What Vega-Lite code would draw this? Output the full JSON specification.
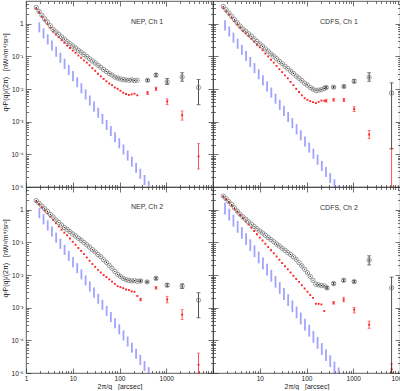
{
"$schema": "https://vega.github.io/schema/vega-lite/v6.json",
"padding": 0,
"background": "white",
"config": {
  "view": {"stroke": "#333", "strokeWidth": 0.8},
  "axis": {"domain": false, "grid": false, "tickColor": "#333", "tickWidth": 0.7, "labelFont": "Liberation Sans", "labelFontSize": 6.5, "labelColor": "#222", "titleFont": "Liberation Sans", "titleFontSize": 7, "titleFontWeight": "normal", "titleColor": "#222", "labelFlush": false, "labelOverlap": false, "labelBound": false}
},
"data": {"values": [
{"p":"N1","x":1.66,"t":3.16,"c":2.88},{"p":"N1","x":1.905,"t":2.4,"c":2.19},{"p":"N1","x":2.188,"t":1.82,"c":1.62},{"p":"N1","x":2.512,"t":1.41,"c":1.26},{"p":"N1","x":2.884,"t":1.12,"c":0.977},{"p":"N1","x":3.311,"t":0.871,"c":0.759},{"p":"N1","x":3.802,"t":0.676,"c":0.575},{"p":"N1","x":4.365,"t":0.562,"c":0.468},{"p":"N1","x":5.012,"t":0.479,"c":0.389},{"p":"N1","x":5.754,"t":0.398,"c":0.316},{"p":"N1","x":6.607,"t":0.339,"c":0.263},{"p":"N1","x":7.586,"t":0.282,"c":0.214},{"p":"N1","x":8.71,"t":0.245,"c":0.182},{"p":"N1","x":10,"t":0.209,"c":0.151},{"p":"N1","x":11.48,"t":0.182,"c":0.129},{"p":"N1","x":13.18,"t":0.155,"c":0.107},{"p":"N1","x":15.14,"t":0.135,"c":0.0912},{"p":"N1","x":17.38,"t":0.115,"c":0.0759},{"p":"N1","x":19.95,"t":0.1,"c":0.0646},{"p":"N1","x":22.91,"t":0.0851,"c":0.0537},{"p":"N1","x":26.3,"t":0.0724,"c":0.0437},{"p":"N1","x":30.2,"t":0.0631,"c":0.0363},{"p":"N1","x":34.67,"t":0.0537,"c":0.0295},{"p":"N1","x":39.81,"t":0.0468,"c":0.0245},{"p":"N1","x":45.71,"t":0.0398,"c":0.0204},{"p":"N1","x":52.48,"t":0.0347,"c":0.0174},{"p":"N1","x":60.26,"t":0.0302,"c":0.0148},{"p":"N1","x":69.18,"t":0.0269,"c":0.0132},{"p":"N1","x":79.43,"t":0.0234,"c":0.0112},{"p":"N1","x":91.2,"t":0.0219,"c":0.0102},{"p":"N1","x":104.7,"t":0.0204,"c":0.00891},{"p":"N1","x":120.2,"t":0.0195,"c":0.00776},{"p":"N1","x":138,"t":0.0191,"c":0.00708},{"p":"N1","x":158.5,"t":0.0186,"c":0.00661},{"p":"N1","x":182,"t":0.0191,"c":0.00692},{"p":"N1","x":208.9,"t":0.0182,"c":0.00724},{"p":"N1","x":239.9,"t":0.0186,"c":0.00646},
{"p":"N1","x":398,"t":0.0186,"tl":0.0174,"th":0.02,"c":0.00759,"cl":0.0068,"ch":0.0085},{"p":"N1","x":603,"t":0.0269,"tl":0.024,"th":0.0302,"c":0.0102,"cl":0.0091,"ch":0.0115},{"p":"N1","x":1047,"t":0.0166,"tl":0.0138,"th":0.0209,"c":0.00417,"cl":0.00331,"ch":0.00501},{"p":"N1","x":2188,"t":0.0234,"tl":0.0174,"th":0.0316,"c":0.00158,"cl":0.00112,"ch":0.00214},{"p":"N1","x":4898,"t":0.0112,"tl":0.00331,"th":0.0195,"c":0.000087,"cl":0.0000355,"ch":0.000214},
{"p":"C1","x":1.66,"t":3.39,"c":3.02},{"p":"C1","x":1.905,"t":2.69,"c":2.4},{"p":"C1","x":2.188,"t":2.14,"c":1.91},{"p":"C1","x":2.512,"t":1.7,"c":1.51},{"p":"C1","x":2.884,"t":1.35,"c":1.2},{"p":"C1","x":3.311,"t":1.07,"c":0.955},{"p":"C1","x":3.802,"t":0.851,"c":0.759},{"p":"C1","x":4.365,"t":0.692,"c":0.603},{"p":"C1","x":5.012,"t":0.589,"c":0.513},{"p":"C1","x":5.754,"t":0.49,"c":0.417},{"p":"C1","x":6.607,"t":0.417,"c":0.347},{"p":"C1","x":7.586,"t":0.347,"c":0.282},{"p":"C1","x":8.71,"t":0.288,"c":0.229},{"p":"C1","x":10,"t":0.245,"c":0.191},{"p":"C1","x":11.48,"t":0.204,"c":0.155},{"p":"C1","x":13.18,"t":0.17,"c":0.123},{"p":"C1","x":15.14,"t":0.145,"c":0.1},{"p":"C1","x":17.38,"t":0.12,"c":0.0794},{"p":"C1","x":19.95,"t":0.102,"c":0.0646},{"p":"C1","x":22.91,"t":0.0851,"c":0.0513},{"p":"C1","x":26.3,"t":0.0708,"c":0.0407},{"p":"C1","x":30.2,"t":0.0603,"c":0.0331},{"p":"C1","x":34.67,"t":0.0501,"c":0.0263},{"p":"C1","x":39.81,"t":0.0427,"c":0.0214},{"p":"C1","x":45.71,"t":0.0355,"c":0.0166},{"p":"C1","x":52.48,"t":0.0302,"c":0.0132},{"p":"C1","x":60.26,"t":0.0251,"c":0.0102},{"p":"C1","x":69.18,"t":0.0214,"c":0.00813},{"p":"C1","x":79.43,"t":0.0182,"c":0.00646},{"p":"C1","x":91.2,"t":0.0151,"c":0.00525},{"p":"C1","x":104.7,"t":0.0132,"c":0.00468},{"p":"C1","x":120.2,"t":0.0112,"c":0.00427},{"p":"C1","x":138,"t":0.01,"c":0.00398},{"p":"C1","x":158.5,"t":0.00891,"c":0.00372},{"p":"C1","x":182,"t":0.00933,"c":0.00407},{"p":"C1","x":208.9,"t":0.00955,"c":0.00447},{"p":"C1","x":239.9,"t":0.0105,"c":0.00437},
{"p":"C1","x":263,"t":0.0112,"tl":0.0105,"th":0.012,"c":0.00437,"cl":0.00398,"ch":0.00479},{"p":"C1","x":380,"t":0.0115,"tl":0.0107,"th":0.0123,"c":0.00468,"cl":0.00427,"ch":0.00513},{"p":"C1","x":631,"t":0.012,"tl":0.011,"th":0.0132,"c":0.00468,"cl":0.00417,"ch":0.00525},{"p":"C1","x":1047,"t":0.0174,"tl":0.0155,"th":0.0195,"c":0.00245,"cl":0.00204,"ch":0.00288},{"p":"C1","x":2188,"t":0.0229,"tl":0.0174,"th":0.0316,"c":0.000407,"cl":0.000302,"ch":0.000537},{"p":"C1","x":6607,"t":0.00759,"tl":0.000148,"th":0.0155,"cl":0.00001,"ch":0.000148},
{"p":"N2","x":1.66,"t":1.91,"c":1.78},{"p":"N2","x":1.905,"t":1.585,"c":1.48},{"p":"N2","x":2.188,"t":1.29,"c":1.175},{"p":"N2","x":2.512,"t":1.07,"c":0.955},{"p":"N2","x":2.884,"t":0.891,"c":0.776},{"p":"N2","x":3.311,"t":0.724,"c":0.617},{"p":"N2","x":3.802,"t":0.603,"c":0.49},{"p":"N2","x":4.365,"t":0.49,"c":0.389},{"p":"N2","x":5.012,"t":0.407,"c":0.309},{"p":"N2","x":5.754,"t":0.339,"c":0.245},{"p":"N2","x":6.607,"t":0.288,"c":0.2},{"p":"N2","x":7.586,"t":0.251,"c":0.166},{"p":"N2","x":8.71,"t":0.214,"c":0.132},{"p":"N2","x":10,"t":0.182,"c":0.105},{"p":"N2","x":11.48,"t":0.158,"c":0.0851},{"p":"N2","x":13.18,"t":0.135,"c":0.0676},{"p":"N2","x":15.14,"t":0.1175,"c":0.055},{"p":"N2","x":17.38,"t":0.1,"c":0.0437},{"p":"N2","x":19.95,"t":0.0851,"c":0.0347},{"p":"N2","x":22.91,"t":0.0724,"c":0.0275},{"p":"N2","x":26.3,"t":0.0603,"c":0.0219},{"p":"N2","x":30.2,"t":0.0513,"c":0.0178},{"p":"N2","x":34.67,"t":0.0427,"c":0.0145},{"p":"N2","x":39.81,"t":0.0363,"c":0.012},{"p":"N2","x":45.71,"t":0.0295,"c":0.01},{"p":"N2","x":52.48,"t":0.0245,"c":0.00871},{"p":"N2","x":60.26,"t":0.02,"c":0.00741},{"p":"N2","x":69.18,"t":0.0162,"c":0.00631},{"p":"N2","x":79.43,"t":0.0129,"c":0.00537},{"p":"N2","x":91.2,"t":0.0105,"c":0.00457},{"p":"N2","x":104.7,"t":0.00912,"c":0.00427},{"p":"N2","x":120.2,"t":0.00794,"c":0.00398},{"p":"N2","x":138,"t":0.00724,"c":0.00363},{"p":"N2","x":158.5,"t":0.00692,"c":0.00347},{"p":"N2","x":182,"t":0.00661,"c":0.00316},{"p":"N2","x":208.9,"t":0.00676,"c":0.00309},{"p":"N2","x":239.9,"t":0.00646,"c":0.00229},
{"p":"N2","x":282,"t":0.00661,"tl":0.0062,"th":0.0071,"c":0.00178,"cl":0.00162,"ch":0.00195},{"p":"N2","x":389,"t":0.00617,"tl":0.0058,"th":0.0066},{"p":"N2","x":603,"t":0.00794,"tl":0.0072,"th":0.0087,"c":0.00407,"cl":0.00372,"ch":0.00447},{"p":"N2","x":1047,"t":0.0049,"tl":0.0044,"th":0.0055,"c":0.00178,"cl":0.00141,"ch":0.00224},{"p":"N2","x":2188,"t":0.00457,"tl":0.00389,"th":0.00537,"c":0.000617,"cl":0.000437,"ch":0.00087},{"p":"N2","x":4898,"t":0.0017,"tl":0.00049,"th":0.00288,"c":0.0000178,"cl":0.00001,"ch":0.0000407},
{"p":"C2","x":1.66,"t":2.63,"c":2.51},{"p":"C2","x":1.905,"t":2.19,"c":2.09},{"p":"C2","x":2.188,"t":1.78,"c":1.7},{"p":"C2","x":2.512,"t":1.445,"c":1.35},{"p":"C2","x":2.884,"t":1.148,"c":1.07},{"p":"C2","x":3.311,"t":0.912,"c":0.871},{"p":"C2","x":3.802,"t":0.724,"c":0.692},{"p":"C2","x":4.365,"t":0.603,"c":0.55},{"p":"C2","x":5.012,"t":0.513,"c":0.437},{"p":"C2","x":5.754,"t":0.427,"c":0.355},{"p":"C2","x":6.607,"t":0.363,"c":0.282},{"p":"C2","x":7.586,"t":0.309,"c":0.224},{"p":"C2","x":8.71,"t":0.263,"c":0.178},{"p":"C2","x":10,"t":0.224,"c":0.141},{"p":"C2","x":11.48,"t":0.195,"c":0.115},{"p":"C2","x":13.18,"t":0.166,"c":0.0912},{"p":"C2","x":15.14,"t":0.141,"c":0.0724},{"p":"C2","x":17.38,"t":0.123,"c":0.0575},{"p":"C2","x":19.95,"t":0.105,"c":0.0468},{"p":"C2","x":22.91,"t":0.0891,"c":0.0372},{"p":"C2","x":26.3,"t":0.0776,"c":0.0295},{"p":"C2","x":30.2,"t":0.0661,"c":0.0234},{"p":"C2","x":34.67,"t":0.0575,"c":0.0186},{"p":"C2","x":39.81,"t":0.049,"c":0.0151},{"p":"C2","x":45.71,"t":0.0427,"c":0.012},{"p":"C2","x":52.48,"t":0.0363,"c":0.00955},{"p":"C2","x":60.26,"t":0.0302,"c":0.00759},{"p":"C2","x":69.18,"t":0.024,"c":0.00617},{"p":"C2","x":79.43,"t":0.0191,"c":0.0049},{"p":"C2","x":91.2,"t":0.0151,"c":0.00389},{"p":"C2","x":104.7,"t":0.0117,"c":0.00309},{"p":"C2","x":120.2,"t":0.00912,"c":0.00245},{"p":"C2","x":138,"t":0.00692,"c":0.002},{"p":"C2","x":158.5,"t":0.00525,"c":0.00132},{"p":"C2","x":182,"t":0.00501,"c":0.00132},{"p":"C2","x":208.9,"t":0.00479,"c":0.00126},{"p":"C2","x":239.9,"t":0.00468,"c":0.000794},
{"p":"C2","x":275,"t":0.00407,"tl":0.00372,"th":0.00447},{"p":"C2","x":380,"t":0.0055,"tl":0.00501,"th":0.00603,"c":0.00141,"cl":0.00129,"ch":0.00155},{"p":"C2","x":624,"t":0.00692,"tl":0.0063,"th":0.0076,"c":0.00178,"cl":0.00151,"ch":0.00209},{"p":"C2","x":1047,"t":0.00631,"tl":0.0058,"th":0.0069,"c":0.00087,"cl":0.00069,"ch":0.00102},{"p":"C2","x":2188,"t":0.0288,"tl":0.0204,"th":0.0389,"c":0.000302,"cl":0.000234,"ch":0.000389},{"p":"C2","x":6607,"t":0.00407,"tl":0.00001,"th":0.0087,"c":0.000013,"cl":0.00001,"ch":0.000019},
{"p":"N1","x":176,"y":1.14,"lab":"NEP, Ch 1"},{"p":"C1","x":195,"y":1.14,"lab":"CDFS, Ch 1"},{"p":"N2","x":176,"y":1.2,"lab":"NEP, Ch 2"},{"p":"C2","x":195,"y":1.15,"lab":"CDFS, Ch 2"},
{"p":"N1","x":1.93,"bl":0.55,"bh":1.122},{"p":"N1","x":2.371,"bl":0.357,"bh":0.729},{"p":"N1","x":2.917,"bl":0.232,"bh":0.474},{"p":"N1","x":3.589,"bl":0.151,"bh":0.308},{"p":"N1","x":4.416,"bl":0.098,"bh":0.2},{"p":"N1","x":5.433,"bl":0.0637,"bh":0.13},{"p":"N1","x":6.683,"bl":0.0414,"bh":0.0845},{"p":"N1","x":8.222,"bl":0.027,"bh":0.055},{"p":"N1","x":10.12,"bl":0.0175,"bh":0.0356},{"p":"N1","x":12.45,"bl":0.0114,"bh":0.0232},{"p":"N1","x":15.31,"bl":0.00739,"bh":0.01507},{"p":"N1","x":18.84,"bl":0.0048,"bh":0.0098},{"p":"N1","x":23.17,"bl":0.00312,"bh":0.00637},{"p":"N1","x":28.51,"bl":0.00202,"bh":0.00413},{"p":"N1","x":35.08,"bl":0.00132,"bh":0.00269},{"p":"N1","x":43.15,"bl":0.000856,"bh":0.00175},{"p":"N1","x":53.09,"bl":0.000556,"bh":0.001135},{"p":"N1","x":65.31,"bl":0.000362,"bh":0.000738},{"p":"N1","x":80.35,"bl":0.000235,"bh":0.000479},{"p":"N1","x":98.86,"bl":0.000153,"bh":0.000311},{"p":"N1","x":121.6,"bl":0.0000992,"bh":0.000202},{"p":"N1","x":149.6,"bl":0.0000645,"bh":0.0001315},{"p":"N1","x":184.1,"bl":0.0000419,"bh":0.0000855},{"p":"N1","x":226.5,"bl":0.0000272,"bh":0.0000555},{"p":"N1","x":278.6,"bl":0.0000177,"bh":0.0000361},{"p":"N1","x":342.8,"bl":0.0000115,"bh":0.0000234},{"p":"N1","x":421.7,"bl":0.00001,"bh":0.0000152},
{"p":"N2","x":1.93,"bl":0.55,"bh":1.122},{"p":"N2","x":2.371,"bl":0.357,"bh":0.729},{"p":"N2","x":2.917,"bl":0.232,"bh":0.474},{"p":"N2","x":3.589,"bl":0.151,"bh":0.308},{"p":"N2","x":4.416,"bl":0.098,"bh":0.2},{"p":"N2","x":5.433,"bl":0.0637,"bh":0.13},{"p":"N2","x":6.683,"bl":0.0414,"bh":0.0845},{"p":"N2","x":8.222,"bl":0.027,"bh":0.055},{"p":"N2","x":10.12,"bl":0.0175,"bh":0.0356},{"p":"N2","x":12.45,"bl":0.0114,"bh":0.0232},{"p":"N2","x":15.31,"bl":0.00739,"bh":0.01507},{"p":"N2","x":18.84,"bl":0.0048,"bh":0.0098},{"p":"N2","x":23.17,"bl":0.00312,"bh":0.00637},{"p":"N2","x":28.51,"bl":0.00202,"bh":0.00413},{"p":"N2","x":35.08,"bl":0.00132,"bh":0.00269},{"p":"N2","x":43.15,"bl":0.000856,"bh":0.00175},{"p":"N2","x":53.09,"bl":0.000556,"bh":0.001135},{"p":"N2","x":65.31,"bl":0.000362,"bh":0.000738},{"p":"N2","x":80.35,"bl":0.000235,"bh":0.000479},{"p":"N2","x":98.86,"bl":0.000153,"bh":0.000311},{"p":"N2","x":121.6,"bl":0.0000992,"bh":0.000202},{"p":"N2","x":149.6,"bl":0.0000645,"bh":0.0001315},{"p":"N2","x":184.1,"bl":0.0000419,"bh":0.0000855},{"p":"N2","x":226.5,"bl":0.0000272,"bh":0.0000555},{"p":"N2","x":278.6,"bl":0.0000177,"bh":0.0000361},{"p":"N2","x":342.8,"bl":0.0000115,"bh":0.0000234},{"p":"N2","x":421.7,"bl":0.00001,"bh":0.0000152},
{"p":"C1","x":1.809,"bl":0.627,"bh":1.279},{"p":"C1","x":2.225,"bl":0.408,"bh":0.832},{"p":"C1","x":2.738,"bl":0.265,"bh":0.54},{"p":"C1","x":3.368,"bl":0.172,"bh":0.351},{"p":"C1","x":4.144,"bl":0.112,"bh":0.228},{"p":"C1","x":5.098,"bl":0.0725,"bh":0.148},{"p":"C1","x":6.272,"bl":0.0472,"bh":0.0963},{"p":"C1","x":7.716,"bl":0.0307,"bh":0.0627},{"p":"C1","x":9.493,"bl":0.0199,"bh":0.0406},{"p":"C1","x":11.68,"bl":0.0129,"bh":0.0264},{"p":"C1","x":14.37,"bl":0.00842,"bh":0.01718},{"p":"C1","x":17.68,"bl":0.00548,"bh":0.01117},{"p":"C1","x":21.75,"bl":0.00356,"bh":0.00726},{"p":"C1","x":26.76,"bl":0.00231,"bh":0.00471},{"p":"C1","x":32.92,"bl":0.0015,"bh":0.00307},{"p":"C1","x":40.5,"bl":0.00098,"bh":0.002},{"p":"C1","x":49.83,"bl":0.000634,"bh":0.001294},{"p":"C1","x":61.3,"bl":0.000412,"bh":0.000841},{"p":"C1","x":75.42,"bl":0.000268,"bh":0.000546},{"p":"C1","x":92.79,"bl":0.000174,"bh":0.000355},{"p":"C1","x":114.2,"bl":0.000113,"bh":0.00023},{"p":"C1","x":140.5,"bl":0.0000735,"bh":0.0001499},{"p":"C1","x":172.8,"bl":0.0000478,"bh":0.0000975},{"p":"C1","x":212.6,"bl":0.000031,"bh":0.0000633},{"p":"C1","x":261.6,"bl":0.0000202,"bh":0.0000412},{"p":"C1","x":321.8,"bl":0.0000131,"bh":0.0000267},{"p":"C1","x":395.9,"bl":0.00001,"bh":0.0000173},{"p":"C1","x":487.1,"bl":0.00001,"bh":0.0000113},
{"p":"C2","x":1.809,"bl":0.721,"bh":1.663},{"p":"C2","x":2.225,"bl":0.469,"bh":1.082},{"p":"C2","x":2.738,"bl":0.305,"bh":0.702},{"p":"C2","x":3.368,"bl":0.198,"bh":0.456},{"p":"C2","x":4.144,"bl":0.129,"bh":0.296},{"p":"C2","x":5.098,"bl":0.0834,"bh":0.192},{"p":"C2","x":6.272,"bl":0.0543,"bh":0.125},{"p":"C2","x":7.716,"bl":0.0353,"bh":0.0815},{"p":"C2","x":9.493,"bl":0.0229,"bh":0.0528},{"p":"C2","x":11.68,"bl":0.01484,"bh":0.0343},{"p":"C2","x":14.37,"bl":0.00968,"bh":0.0223},{"p":"C2","x":17.68,"bl":0.0063,"bh":0.01452},{"p":"C2","x":21.75,"bl":0.00409,"bh":0.00944},{"p":"C2","x":26.76,"bl":0.00266,"bh":0.00612},{"p":"C2","x":32.92,"bl":0.001725,"bh":0.00399},{"p":"C2","x":40.5,"bl":0.001127,"bh":0.0026},{"p":"C2","x":49.83,"bl":0.000729,"bh":0.00168},{"p":"C2","x":61.3,"bl":0.000474,"bh":0.001093},{"p":"C2","x":75.42,"bl":0.000308,"bh":0.00071},{"p":"C2","x":92.79,"bl":0.0002,"bh":0.000462},{"p":"C2","x":114.2,"bl":0.00013,"bh":0.000299},{"p":"C2","x":140.5,"bl":0.0000845,"bh":0.000195},{"p":"C2","x":172.8,"bl":0.000055,"bh":0.000127},{"p":"C2","x":212.6,"bl":0.0000357,"bh":0.0000823},{"p":"C2","x":261.6,"bl":0.0000232,"bh":0.0000536},{"p":"C2","x":321.8,"bl":0.0000151,"bh":0.0000347},{"p":"C2","x":395.9,"bl":0.00001,"bh":0.0000225},{"p":"C2","x":487.1,"bl":0.00001,"bh":0.0000147}
]},
"columns": 2,
"spacing": 0,
"bounds": "flush",
"concat": [
{
 "width": 187, "height": 186,
 "transform": [{"filter": "datum.p == 'N1'"}],
 "layer": [
  {"transform": [{"filter": "isValid(datum.bl)"}], "mark": {"type": "rule", "color": "#a3a3ff", "strokeWidth": 1.8},
   "encoding": {"x": {"field": "x", "type": "quantitative", "scale": {"type": "log", "domain": [1, 10000], "nice": false}, "axis": {"orient": "bottom", "values": [1,10,100,1000,10000], "tickSize": -5, "labels": false, "title": null}},
    "y": {"field": "bl", "type": "quantitative", "scale": {"type": "log", "domain": [0.00001, 5], "nice": false}, "axis": {"orient": "left", "values": [0.00001,0.0001,0.001,0.01,0.1,1], "tickSize": -5, "labelPadding": 8, "labelExpr": "datum.value > 0.5 ? '1' : '10⁻' + ['','¹','²','³','⁴','⁵'][round(-log(datum.value)/LN10)]", "title": "q²P(q)/(2π)\u00a0\u00a0\u00a0[nW²/m⁴/sr²]", "titleX": -18, "titleY": 71}},
    "y2": {"field": "bh"}}},
  {"transform": [{"filter": "isValid(datum.cl)"}], "mark": {"type": "errorbar", "color": "#ff2a2a", "ticks": {"size": 3}, "thickness": 0.8},
   "encoding": {"x": {"field": "x", "type": "quantitative", "scale": {"type": "log", "domain": [1, 10000], "nice": false}, "axis": null}, "y": {"field": "cl", "type": "quantitative", "scale": {"type": "log", "domain": [0.00001, 5], "nice": false}, "axis": null}, "y2": {"field": "ch"}}},
  {"transform": [{"filter": "isValid(datum.c)"}], "mark": {"type": "square", "color": "#ff2020", "size": 3.5, "opacity": 1},
   "encoding": {"x": {"field": "x", "type": "quantitative", "scale": {"type": "log", "domain": [1, 10000], "nice": false}, "axis": {"orient": "bottom", "values": [2,3,4,5,6,7,8,9,20,30,40,50,60,70,80,90,200,300,400,500,600,700,800,900,2000,3000,4000,5000,6000,7000,8000,9000], "tickSize": -2.5, "labels": false, "title": null}},
    "y": {"field": "c", "type": "quantitative", "scale": {"type": "log", "domain": [0.00001, 5], "nice": false}, "axis": {"orient": "left", "values": [0.00002,0.00003,0.00004,0.00005,0.00006,0.00007,0.00008,0.00009,0.0002,0.0003,0.0004,0.0005,0.0006,0.0007,0.0008,0.0009,0.002,0.003,0.004,0.005,0.006,0.007,0.008,0.009,0.02,0.03,0.04,0.05,0.06,0.07,0.08,0.09,0.2,0.3,0.4,0.5,0.6,0.7,0.8,0.9,2,3,4], "tickSize": -2.5, "labels": false, "title": null}}}},
  {"transform": [{"filter": "isValid(datum.tl)"}], "mark": {"type": "errorbar", "color": "#222", "ticks": {"size": 4}, "thickness": 0.8},
   "encoding": {"x": {"field": "x", "type": "quantitative", "scale": {"type": "log", "domain": [1, 10000], "nice": false}, "axis": null}, "y": {"field": "tl", "type": "quantitative", "scale": {"type": "log", "domain": [0.00001, 5], "nice": false}, "axis": null}, "y2": {"field": "th"}}},
  {"transform": [{"filter": "isValid(datum.t)"}], "mark": {"type": "point", "shape": "circle", "filled": false, "color": "#707070", "size": 19, "strokeWidth": 0.7, "opacity": 1},
   "encoding": {"x": {"field": "x", "type": "quantitative", "scale": {"type": "log", "domain": [1, 10000], "nice": false}, "axis": {"orient": "top", "values": [1,10,100,1000,10000], "tickSize": -5, "labels": false, "title": null}},
    "y": {"field": "t", "type": "quantitative", "scale": {"type": "log", "domain": [0.00001, 5], "nice": false}, "axis": {"orient": "right", "values": [0.00001,0.0001,0.001,0.01,0.1,1], "tickSize": -5, "labels": false, "title": null}}}},
  {"transform": [{"filter": "isValid(datum.t)"}], "mark": {"type": "square", "color": "#222", "size": 1.2, "opacity": 1},
   "encoding": {"x": {"field": "x", "type": "quantitative", "scale": {"type": "log", "domain": [1, 10000], "nice": false}, "axis": null}, "y": {"field": "t", "type": "quantitative", "scale": {"type": "log", "domain": [0.00001, 5], "nice": false}, "axis": null}}},
  {"transform": [{"filter": "isValid(datum.lab)"}], "mark": {"type": "text", "align": "left", "baseline": "middle", "font": "Liberation Sans", "fontSize": 7, "color": "#333"},
   "encoding": {"x": {"field": "x", "type": "quantitative", "scale": {"type": "log", "domain": [1, 10000], "nice": false}, "axis": {"orient": "top", "values": [2,3,4,5,6,7,8,9,20,30,40,50,60,70,80,90,200,300,400,500,600,700,800,900,2000,3000,4000,5000,6000,7000,8000,9000], "tickSize": -2.5, "labels": false, "title": null}},
    "y": {"field": "y", "type": "quantitative", "scale": {"type": "log", "domain": [0.00001, 5], "nice": false}, "axis": {"orient": "right", "values": [0.00002,0.00003,0.00004,0.00005,0.00006,0.00007,0.00008,0.00009,0.0002,0.0003,0.0004,0.0005,0.0006,0.0007,0.0008,0.0009,0.002,0.003,0.004,0.005,0.006,0.007,0.008,0.009,0.02,0.03,0.04,0.05,0.06,0.07,0.08,0.09,0.2,0.3,0.4,0.5,0.6,0.7,0.8,0.9,2,3,4], "tickSize": -2.5, "labels": false, "title": null}},
    "text": {"field": "lab"}}}
 ],
 "resolve": {"axis": {"x": "independent", "y": "independent"}}
},
{
 "width": 187, "height": 186,
 "transform": [{"filter": "datum.p == 'C1'"}],
 "layer": [
  {"transform": [{"filter": "isValid(datum.bl)"}], "mark": {"type": "rule", "color": "#a3a3ff", "strokeWidth": 1.8},
   "encoding": {"x": {"field": "x", "type": "quantitative", "scale": {"type": "log", "domain": [1, 10000], "nice": false}, "axis": {"orient": "bottom", "values": [1,10,100,1000,10000], "tickSize": -5, "labels": false, "title": null}},
    "y": {"field": "bl", "type": "quantitative", "scale": {"type": "log", "domain": [0.00001, 5], "nice": false}, "axis": {"orient": "left", "values": [0.00001,0.0001,0.001,0.01,0.1,1], "tickSize": -5, "labels": false, "title": null}},
    "y2": {"field": "bh"}}},
  {"transform": [{"filter": "isValid(datum.cl)"}], "mark": {"type": "errorbar", "color": "#ff2a2a", "ticks": {"size": 3}, "thickness": 0.8},
   "encoding": {"x": {"field": "x", "type": "quantitative", "scale": {"type": "log", "domain": [1, 10000], "nice": false}, "axis": null}, "y": {"field": "cl", "type": "quantitative", "scale": {"type": "log", "domain": [0.00001, 5], "nice": false}, "axis": null}, "y2": {"field": "ch"}}},
  {"transform": [{"filter": "isValid(datum.c)"}], "mark": {"type": "square", "color": "#ff2020", "size": 3.5, "opacity": 1},
   "encoding": {"x": {"field": "x", "type": "quantitative", "scale": {"type": "log", "domain": [1, 10000], "nice": false}, "axis": {"orient": "bottom", "values": [2,3,4,5,6,7,8,9,20,30,40,50,60,70,80,90,200,300,400,500,600,700,800,900,2000,3000,4000,5000,6000,7000,8000,9000], "tickSize": -2.5, "labels": false, "title": null}},
    "y": {"field": "c", "type": "quantitative", "scale": {"type": "log", "domain": [0.00001, 5], "nice": false}, "axis": {"orient": "left", "values": [0.00002,0.00003,0.00004,0.00005,0.00006,0.00007,0.00008,0.00009,0.0002,0.0003,0.0004,0.0005,0.0006,0.0007,0.0008,0.0009,0.002,0.003,0.004,0.005,0.006,0.007,0.008,0.009,0.02,0.03,0.04,0.05,0.06,0.07,0.08,0.09,0.2,0.3,0.4,0.5,0.6,0.7,0.8,0.9,2,3,4], "tickSize": -2.5, "labels": false, "title": null}}}},
  {"transform": [{"filter": "isValid(datum.tl)"}], "mark": {"type": "errorbar", "color": "#222", "ticks": {"size": 4}, "thickness": 0.8},
   "encoding": {"x": {"field": "x", "type": "quantitative", "scale": {"type": "log", "domain": [1, 10000], "nice": false}, "axis": null}, "y": {"field": "tl", "type": "quantitative", "scale": {"type": "log", "domain": [0.00001, 5], "nice": false}, "axis": null}, "y2": {"field": "th"}}},
  {"transform": [{"filter": "isValid(datum.t)"}], "mark": {"type": "point", "shape": "circle", "filled": false, "color": "#707070", "size": 19, "strokeWidth": 0.7, "opacity": 1},
   "encoding": {"x": {"field": "x", "type": "quantitative", "scale": {"type": "log", "domain": [1, 10000], "nice": false}, "axis": {"orient": "top", "values": [1,10,100,1000,10000], "tickSize": -5, "labels": false, "title": null}},
    "y": {"field": "t", "type": "quantitative", "scale": {"type": "log", "domain": [0.00001, 5], "nice": false}, "axis": {"orient": "right", "values": [0.00001,0.0001,0.001,0.01,0.1,1], "tickSize": -5, "labels": false, "title": null}}}},
  {"transform": [{"filter": "isValid(datum.t)"}], "mark": {"type": "square", "color": "#222", "size": 1.2, "opacity": 1},
   "encoding": {"x": {"field": "x", "type": "quantitative", "scale": {"type": "log", "domain": [1, 10000], "nice": false}, "axis": null}, "y": {"field": "t", "type": "quantitative", "scale": {"type": "log", "domain": [0.00001, 5], "nice": false}, "axis": null}}},
  {"transform": [{"filter": "isValid(datum.lab)"}], "mark": {"type": "text", "align": "left", "baseline": "middle", "font": "Liberation Sans", "fontSize": 7, "color": "#333"},
   "encoding": {"x": {"field": "x", "type": "quantitative", "scale": {"type": "log", "domain": [1, 10000], "nice": false}, "axis": {"orient": "top", "values": [2,3,4,5,6,7,8,9,20,30,40,50,60,70,80,90,200,300,400,500,600,700,800,900,2000,3000,4000,5000,6000,7000,8000,9000], "tickSize": -2.5, "labels": false, "title": null}},
    "y": {"field": "y", "type": "quantitative", "scale": {"type": "log", "domain": [0.00001, 5], "nice": false}, "axis": {"orient": "right", "values": [0.00002,0.00003,0.00004,0.00005,0.00006,0.00007,0.00008,0.00009,0.0002,0.0003,0.0004,0.0005,0.0006,0.0007,0.0008,0.0009,0.002,0.003,0.004,0.005,0.006,0.007,0.008,0.009,0.02,0.03,0.04,0.05,0.06,0.07,0.08,0.09,0.2,0.3,0.4,0.5,0.6,0.7,0.8,0.9,2,3,4], "tickSize": -2.5, "labels": false, "title": null}},
    "text": {"field": "lab"}}}
 ],
 "resolve": {"axis": {"x": "independent", "y": "independent"}}
},
{
 "width": 187, "height": 186,
 "transform": [{"filter": "datum.p == 'N2'"}],
 "layer": [
  {"transform": [{"filter": "isValid(datum.bl)"}], "mark": {"type": "rule", "color": "#a3a3ff", "strokeWidth": 1.8},
   "encoding": {"x": {"field": "x", "type": "quantitative", "scale": {"type": "log", "domain": [1, 10000], "nice": false}, "axis": {"orient": "bottom", "values": [1,10,100,1000,10000], "tickSize": -5, "labelPadding": 7.5, "labelExpr": "datum.value > 5000 ? '' : format(datum.value, 'd')", "title": "2π/q\u00a0\u00a0\u00a0[arcsec]", "titlePadding": 0.5}},
    "y": {"field": "bl", "type": "quantitative", "scale": {"type": "log", "domain": [0.00001, 5], "nice": false}, "axis": {"orient": "left", "values": [0.00001,0.0001,0.001,0.01,0.1,1], "tickSize": -5, "labelPadding": 8, "labelExpr": "datum.value > 0.5 ? '1' : '10⁻' + ['','¹','²','³','⁴','⁵'][round(-log(datum.value)/LN10)]", "title": "q²P(q)/(2π)\u00a0\u00a0\u00a0[nW²/m⁴/sr²]", "titleX": -18, "titleY": 71}},
    "y2": {"field": "bh"}}},
  {"transform": [{"filter": "isValid(datum.cl)"}], "mark": {"type": "errorbar", "color": "#ff2a2a", "ticks": {"size": 3}, "thickness": 0.8},
   "encoding": {"x": {"field": "x", "type": "quantitative", "scale": {"type": "log", "domain": [1, 10000], "nice": false}, "axis": null}, "y": {"field": "cl", "type": "quantitative", "scale": {"type": "log", "domain": [0.00001, 5], "nice": false}, "axis": null}, "y2": {"field": "ch"}}},
  {"transform": [{"filter": "isValid(datum.c)"}], "mark": {"type": "square", "color": "#ff2020", "size": 3.5, "opacity": 1},
   "encoding": {"x": {"field": "x", "type": "quantitative", "scale": {"type": "log", "domain": [1, 10000], "nice": false}, "axis": {"orient": "bottom", "values": [2,3,4,5,6,7,8,9,20,30,40,50,60,70,80,90,200,300,400,500,600,700,800,900,2000,3000,4000,5000,6000,7000,8000,9000], "tickSize": -2.5, "labels": false, "title": null}},
    "y": {"field": "c", "type": "quantitative", "scale": {"type": "log", "domain": [0.00001, 5], "nice": false}, "axis": {"orient": "left", "values": [0.00002,0.00003,0.00004,0.00005,0.00006,0.00007,0.00008,0.00009,0.0002,0.0003,0.0004,0.0005,0.0006,0.0007,0.0008,0.0009,0.002,0.003,0.004,0.005,0.006,0.007,0.008,0.009,0.02,0.03,0.04,0.05,0.06,0.07,0.08,0.09,0.2,0.3,0.4,0.5,0.6,0.7,0.8,0.9,2,3,4], "tickSize": -2.5, "labels": false, "title": null}}}},
  {"transform": [{"filter": "isValid(datum.tl)"}], "mark": {"type": "errorbar", "color": "#222", "ticks": {"size": 4}, "thickness": 0.8},
   "encoding": {"x": {"field": "x", "type": "quantitative", "scale": {"type": "log", "domain": [1, 10000], "nice": false}, "axis": null}, "y": {"field": "tl", "type": "quantitative", "scale": {"type": "log", "domain": [0.00001, 5], "nice": false}, "axis": null}, "y2": {"field": "th"}}},
  {"transform": [{"filter": "isValid(datum.t)"}], "mark": {"type": "point", "shape": "circle", "filled": false, "color": "#707070", "size": 19, "strokeWidth": 0.7, "opacity": 1},
   "encoding": {"x": {"field": "x", "type": "quantitative", "scale": {"type": "log", "domain": [1, 10000], "nice": false}, "axis": {"orient": "top", "values": [1,10,100,1000,10000], "tickSize": -5, "labels": false, "title": null}},
    "y": {"field": "t", "type": "quantitative", "scale": {"type": "log", "domain": [0.00001, 5], "nice": false}, "axis": {"orient": "right", "values": [0.00001,0.0001,0.001,0.01,0.1,1], "tickSize": -5, "labels": false, "title": null}}}},
  {"transform": [{"filter": "isValid(datum.t)"}], "mark": {"type": "square", "color": "#222", "size": 1.2, "opacity": 1},
   "encoding": {"x": {"field": "x", "type": "quantitative", "scale": {"type": "log", "domain": [1, 10000], "nice": false}, "axis": null}, "y": {"field": "t", "type": "quantitative", "scale": {"type": "log", "domain": [0.00001, 5], "nice": false}, "axis": null}}},
  {"transform": [{"filter": "isValid(datum.lab)"}], "mark": {"type": "text", "align": "left", "baseline": "middle", "font": "Liberation Sans", "fontSize": 7, "color": "#333"},
   "encoding": {"x": {"field": "x", "type": "quantitative", "scale": {"type": "log", "domain": [1, 10000], "nice": false}, "axis": {"orient": "top", "values": [2,3,4,5,6,7,8,9,20,30,40,50,60,70,80,90,200,300,400,500,600,700,800,900,2000,3000,4000,5000,6000,7000,8000,9000], "tickSize": -2.5, "labels": false, "title": null}},
    "y": {"field": "y", "type": "quantitative", "scale": {"type": "log", "domain": [0.00001, 5], "nice": false}, "axis": {"orient": "right", "values": [0.00002,0.00003,0.00004,0.00005,0.00006,0.00007,0.00008,0.00009,0.0002,0.0003,0.0004,0.0005,0.0006,0.0007,0.0008,0.0009,0.002,0.003,0.004,0.005,0.006,0.007,0.008,0.009,0.02,0.03,0.04,0.05,0.06,0.07,0.08,0.09,0.2,0.3,0.4,0.5,0.6,0.7,0.8,0.9,2,3,4], "tickSize": -2.5, "labels": false, "title": null}},
    "text": {"field": "lab"}}}
 ],
 "resolve": {"axis": {"x": "independent", "y": "independent"}}
},
{
 "width": 187, "height": 186,
 "transform": [{"filter": "datum.p == 'C2'"}],
 "layer": [
  {"transform": [{"filter": "isValid(datum.bl)"}], "mark": {"type": "rule", "color": "#a3a3ff", "strokeWidth": 1.8},
   "encoding": {"x": {"field": "x", "type": "quantitative", "scale": {"type": "log", "domain": [1, 10000], "nice": false}, "axis": {"orient": "bottom", "values": [1,10,100,1000,10000], "tickSize": -5, "labelPadding": 7.5, "labelExpr": "datum.value < 2 ? '' : format(datum.value, 'd')", "title": "2π/q\u00a0\u00a0\u00a0[arcsec]", "titlePadding": 0.5}},
    "y": {"field": "bl", "type": "quantitative", "scale": {"type": "log", "domain": [0.00001, 5], "nice": false}, "axis": {"orient": "left", "values": [0.00001,0.0001,0.001,0.01,0.1,1], "tickSize": -5, "labels": false, "title": null}},
    "y2": {"field": "bh"}}},
  {"transform": [{"filter": "isValid(datum.cl)"}], "mark": {"type": "errorbar", "color": "#ff2a2a", "ticks": {"size": 3}, "thickness": 0.8},
   "encoding": {"x": {"field": "x", "type": "quantitative", "scale": {"type": "log", "domain": [1, 10000], "nice": false}, "axis": null}, "y": {"field": "cl", "type": "quantitative", "scale": {"type": "log", "domain": [0.00001, 5], "nice": false}, "axis": null}, "y2": {"field": "ch"}}},
  {"transform": [{"filter": "isValid(datum.c)"}], "mark": {"type": "square", "color": "#ff2020", "size": 3.5, "opacity": 1},
   "encoding": {"x": {"field": "x", "type": "quantitative", "scale": {"type": "log", "domain": [1, 10000], "nice": false}, "axis": {"orient": "bottom", "values": [2,3,4,5,6,7,8,9,20,30,40,50,60,70,80,90,200,300,400,500,600,700,800,900,2000,3000,4000,5000,6000,7000,8000,9000], "tickSize": -2.5, "labels": false, "title": null}},
    "y": {"field": "c", "type": "quantitative", "scale": {"type": "log", "domain": [0.00001, 5], "nice": false}, "axis": {"orient": "left", "values": [0.00002,0.00003,0.00004,0.00005,0.00006,0.00007,0.00008,0.00009,0.0002,0.0003,0.0004,0.0005,0.0006,0.0007,0.0008,0.0009,0.002,0.003,0.004,0.005,0.006,0.007,0.008,0.009,0.02,0.03,0.04,0.05,0.06,0.07,0.08,0.09,0.2,0.3,0.4,0.5,0.6,0.7,0.8,0.9,2,3,4], "tickSize": -2.5, "labels": false, "title": null}}}},
  {"transform": [{"filter": "isValid(datum.tl)"}], "mark": {"type": "errorbar", "color": "#222", "ticks": {"size": 4}, "thickness": 0.8},
   "encoding": {"x": {"field": "x", "type": "quantitative", "scale": {"type": "log", "domain": [1, 10000], "nice": false}, "axis": null}, "y": {"field": "tl", "type": "quantitative", "scale": {"type": "log", "domain": [0.00001, 5], "nice": false}, "axis": null}, "y2": {"field": "th"}}},
  {"transform": [{"filter": "isValid(datum.t)"}], "mark": {"type": "point", "shape": "circle", "filled": false, "color": "#707070", "size": 19, "strokeWidth": 0.7, "opacity": 1},
   "encoding": {"x": {"field": "x", "type": "quantitative", "scale": {"type": "log", "domain": [1, 10000], "nice": false}, "axis": {"orient": "top", "values": [1,10,100,1000,10000], "tickSize": -5, "labels": false, "title": null}},
    "y": {"field": "t", "type": "quantitative", "scale": {"type": "log", "domain": [0.00001, 5], "nice": false}, "axis": {"orient": "right", "values": [0.00001,0.0001,0.001,0.01,0.1,1], "tickSize": -5, "labels": false, "title": null}}}},
  {"transform": [{"filter": "isValid(datum.t)"}], "mark": {"type": "square", "color": "#222", "size": 1.2, "opacity": 1},
   "encoding": {"x": {"field": "x", "type": "quantitative", "scale": {"type": "log", "domain": [1, 10000], "nice": false}, "axis": null}, "y": {"field": "t", "type": "quantitative", "scale": {"type": "log", "domain": [0.00001, 5], "nice": false}, "axis": null}}},
  {"transform": [{"filter": "isValid(datum.lab)"}], "mark": {"type": "text", "align": "left", "baseline": "middle", "font": "Liberation Sans", "fontSize": 7, "color": "#333"},
   "encoding": {"x": {"field": "x", "type": "quantitative", "scale": {"type": "log", "domain": [1, 10000], "nice": false}, "axis": {"orient": "top", "values": [2,3,4,5,6,7,8,9,20,30,40,50,60,70,80,90,200,300,400,500,600,700,800,900,2000,3000,4000,5000,6000,7000,8000,9000], "tickSize": -2.5, "labels": false, "title": null}},
    "y": {"field": "y", "type": "quantitative", "scale": {"type": "log", "domain": [0.00001, 5], "nice": false}, "axis": {"orient": "right", "values": [0.00002,0.00003,0.00004,0.00005,0.00006,0.00007,0.00008,0.00009,0.0002,0.0003,0.0004,0.0005,0.0006,0.0007,0.0008,0.0009,0.002,0.003,0.004,0.005,0.006,0.007,0.008,0.009,0.02,0.03,0.04,0.05,0.06,0.07,0.08,0.09,0.2,0.3,0.4,0.5,0.6,0.7,0.8,0.9,2,3,4], "tickSize": -2.5, "labels": false, "title": null}},
    "text": {"field": "lab"}}}
 ],
 "resolve": {"axis": {"x": "independent", "y": "independent"}}
}
]
}
